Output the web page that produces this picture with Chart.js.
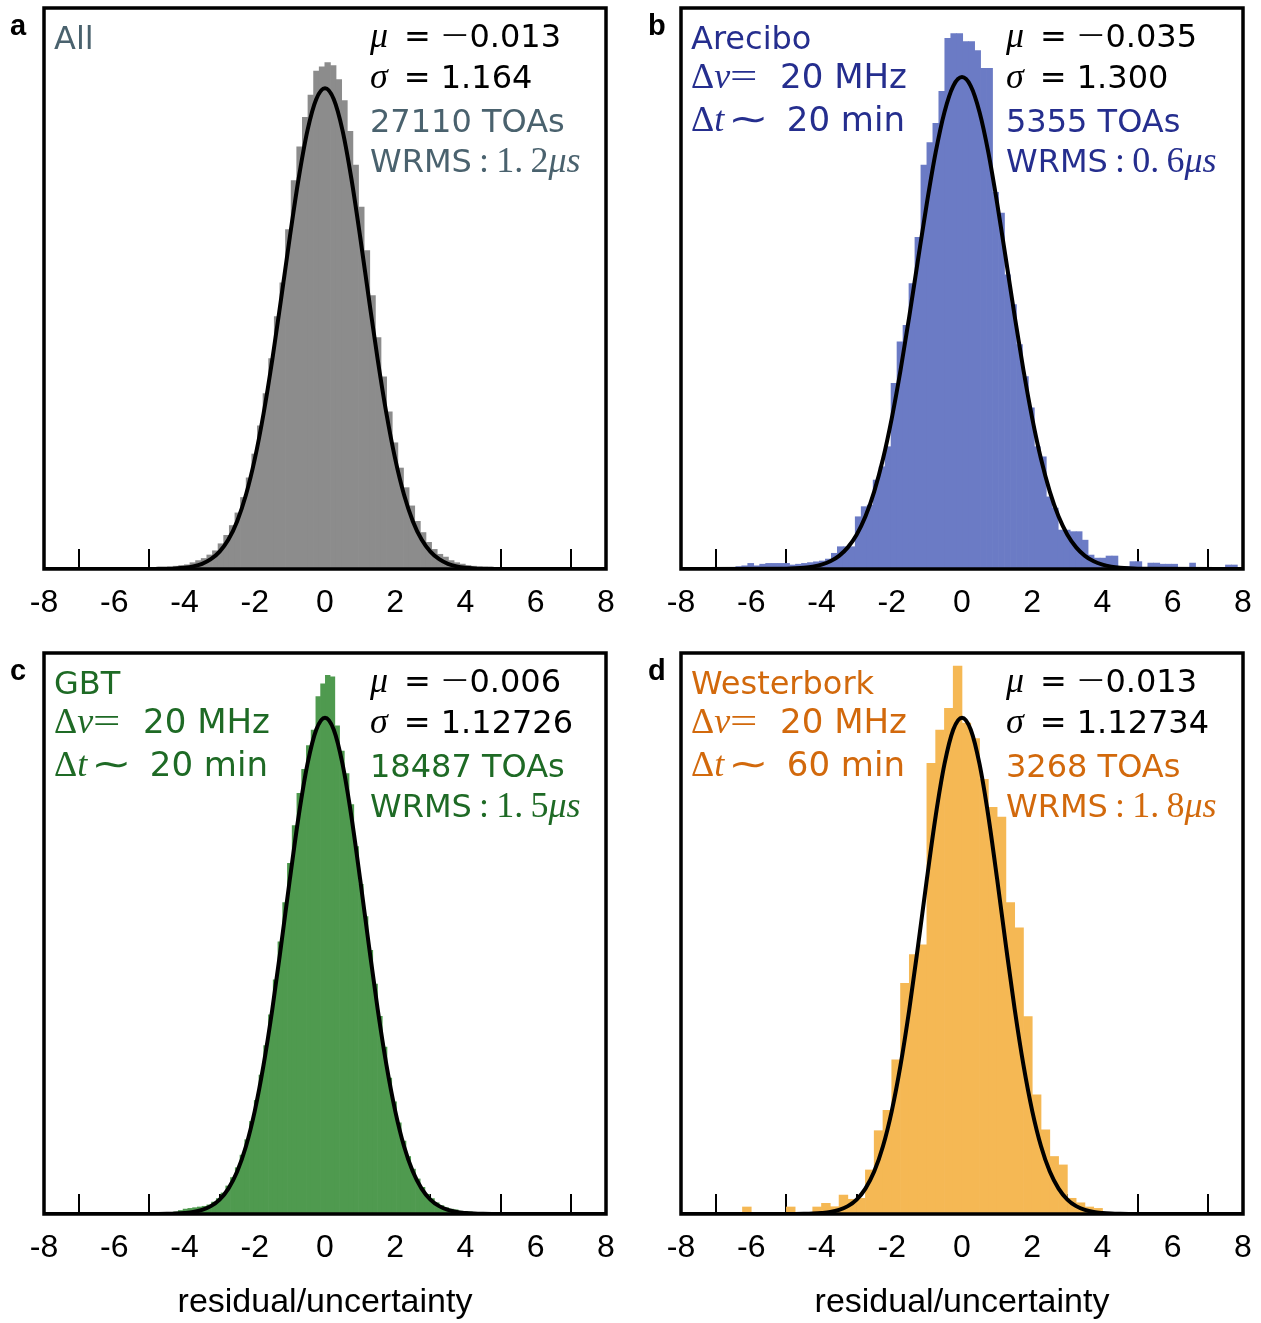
<!DOCTYPE html>
<html>
<head>
<meta charset="utf-8">
<script src="https://cdn.jsdelivr.net/npm/chart.js@4.4.0/dist/chart.umd.min.js"></script>
<style>
  body { margin: 0; background: #fff; }
  #fig { position: relative; width: 1261px; height: 1323px; overflow: hidden; }
  #fig canvas { position: absolute; }
  .txt { position: absolute; font-family: 'DejaVu Sans', sans-serif; font-size: 32px; line-height: 0; white-space: nowrap; }
  .big { font-size: 34px; }
  .m { font-family: 'Liberation Serif', serif; font-style: italic; font-size: 36px; }
  .r { font-family: 'Liberation Serif', serif; font-size: 36px; }
  .w { font-family: 'Liberation Serif', serif; font-size: 36px; display: inline-block; transform: scaleX(1.35); transform-origin: left; }
  .tag { position: absolute; font-family: 'Liberation Sans', Arial, sans-serif; font-weight: bold; font-size: 29px; line-height: 0; }
</style>
</head>
<body>
<div id="fig">
  <canvas id="pa" width="640" height="640" style="left:0;top:0"></canvas>
  <canvas id="pb" width="640" height="640" style="left:637px;top:0"></canvas>
  <canvas id="pc" width="640" height="678" style="left:0;top:645px"></canvas>
  <canvas id="pd" width="640" height="678" style="left:637px;top:645px"></canvas>
</div>
<script>
// x axis ticks (residual / uncertainty)
const xTickValues = [-8, -6, -4, -2, 0, 2, 4, 6, 8];

// histogram bins: first bin centre and bin width, then normalised counts
const binStartA = -6.005, binWidthA = 0.16;
const countsA = [
    0.0006, 0.0006, 0.0008, 0.0006, 0.0008, 0.0008, 0.001, 0.001,
    0.001, 0.0012, 0.0015, 0.002, 0.0025, 0.003, 0.0045, 0.006, 0.0075, 0.010,
    0.013, 0.018, 0.024, 0.031, 0.040, 0.051, 0.065, 0.082, 0.102, 0.125,
    0.150, 0.180, 0.204, 0.242, 0.277, 0.301, 0.322, 0.338, 0.355, 0.358,
    0.361, 0.359, 0.349, 0.334, 0.312, 0.288, 0.258, 0.227, 0.195, 0.165,
    0.137, 0.112, 0.090, 0.072, 0.058, 0.045, 0.034, 0.026, 0.019, 0.014,
    0.0105, 0.0085, 0.006, 0.0045, 0.0035, 0.0025, 0.002, 0.0016, 0.0013, 0.001, 0.0008
];

const binStartB = -6.355, binWidthB = 0.17;
const countsB = [
    0.0015, 0.002, 0.0035, 0.002, 0.003, 0.0035, 0.0035, 0.0035, 0.0035, 0.0025,
    0.003, 0.0035, 0.004, 0.0045, 0.005, 0.0062, 0.0098, 0.0139, 0.0139, 0.0139,
    0.0326, 0.0389, 0.0399, 0.0555, 0.0638, 0.0763, 0.1159, 0.1418, 0.152, 0.178,
    0.207, 0.252, 0.266, 0.278, 0.298, 0.331, 0.334, 0.334,
    0.329, 0.329, 0.3234, 0.3124, 0.3124, 0.235, 0.222, 0.1835, 0.165, 0.14,
    0.12, 0.1005, 0.0763, 0.070, 0.045, 0.038, 0.0243, 0.0243, 0.0233, 0.0233,
    0.018, 0.0087, 0.0068, 0.0068, 0.0081, 0.0081, 0, 0.0015, 0.0046, 0.0046,
    0, 0.0037, 0.0037, 0.003, 0.003, 0.003, 0, 0, 0.0037, 0,
    0, 0, 0, 0, 0.0025, 0.0025
];

const binStartC = -4.5125, binWidthC = 0.135;
const countsC = [
    0.0008, 0.001, 0.0015, 0.0025, 0.0035, 0.004, 0.0045, 0.005, 0.0055, 0.0065,
    0.0085, 0.011, 0.015, 0.020, 0.026, 0.033, 0.042, 0.053, 0.066, 0.081,
    0.099, 0.120, 0.142, 0.167, 0.194, 0.222, 0.250, 0.277, 0.300, 0.317,
    0.334, 0.345, 0.369, 0.378,
    0.384, 0.383, 0.348, 0.330, 0.314, 0.292, 0.262, 0.235, 0.212, 0.188,
    0.164, 0.141, 0.119, 0.097, 0.080, 0.065, 0.052, 0.041, 0.032, 0.025,
    0.019, 0.014, 0.011, 0.008, 0.006, 0.0045, 0.0035, 0.003, 0.002, 0.0018,
    0.0015, 0.0012, 0.001, 0.0008, 0.0006
];

const binStartD = -6.125, binWidthD = 0.25;
const countsD = [
    0.005, 0, 0, 0, 0, 0.005, 0, 0, 0.005, 0.0076,
    0.0052, 0.0135, 0.0105, 0.0112, 0.0314, 0.0594, 0.074, 0.11, 0.1645, 0.185,
    0.192, 0.3213, 0.345, 0.3606, 0.3907, 0.35, 0.339, 0.31, 0.29, 0.283,
    0.222, 0.204, 0.1407, 0.085, 0.06, 0.041, 0.035, 0.0112, 0.008, 0.005, 0.004
];

// fitted normal curves, read at these x positions
const fitX = [-8, -5, -4.75, -4.5, -4.25, -4, -3.75, -3.5, -3.25, -3, -2.75, -2.5, -2.25, -2, -1.75, -1.5, -1.25, -1, -0.75, -0.5, -0.25,
    0, 0.25, 0.5, 0.75, 1, 1.25, 1.5, 1.75, 2, 2.25, 2.5, 2.75, 3, 3.25, 3.5, 3.75, 4, 4.25, 4.5, 4.75, 5, 8];
const fitA = [0, 0, 0.0001, 0.0002, 0.0004, 0.0009, 0.0019, 0.0037, 0.0070, 0.0124, 0.0210, 0.0341, 0.0529, 0.0783, 0.1107, 0.1494, 0.1926, 0.2370, 0.2785, 0.3126, 0.3350,
    0.3428, 0.3350, 0.3126, 0.2785, 0.2370, 0.1926, 0.1494, 0.1107, 0.0783, 0.0529, 0.0341, 0.0210, 0.0124, 0.0070, 0.0037, 0.0019, 0.0009, 0.0004, 0.0002, 0.0001, 0, 0];
const fitB = [0, 0.0002, 0.0004, 0.0008, 0.0015, 0.0027, 0.0048, 0.0082, 0.0135, 0.0214, 0.0327, 0.0483, 0.0686, 0.0940, 0.1240, 0.1577, 0.1933, 0.2283, 0.2599, 0.2850, 0.3013,
    0.3069, 0.3013, 0.2850, 0.2599, 0.2283, 0.1933, 0.1577, 0.1240, 0.0940, 0.0686, 0.0483, 0.0327, 0.0214, 0.0135, 0.0082, 0.0048, 0.0027, 0.0015, 0.0008, 0.0004, 0.0002, 0];
const fitC = [0, 0, 0, 0.0001, 0.0003, 0.0007, 0.0014, 0.0029, 0.0056, 0.0103, 0.0181, 0.0303, 0.0483, 0.0734, 0.1061, 0.1460, 0.1914, 0.2388, 0.2837, 0.3207, 0.3453,
    0.3539, 0.3453, 0.3207, 0.2837, 0.2388, 0.1914, 0.1460, 0.1061, 0.0734, 0.0483, 0.0303, 0.0181, 0.0103, 0.0056, 0.0029, 0.0014, 0.0007, 0.0003, 0.0001, 0, 0, 0];
const fitD = [0, 0, 0, 0.0001, 0.0003, 0.0007, 0.0014, 0.0029, 0.0056, 0.0103, 0.0181, 0.0303, 0.0483, 0.0734, 0.1061, 0.1460, 0.1914, 0.2388, 0.2837, 0.3207, 0.3453,
    0.3539, 0.3453, 0.3207, 0.2837, 0.2388, 0.1914, 0.1460, 0.1061, 0.0734, 0.0483, 0.0303, 0.0181, 0.0103, 0.0056, 0.0029, 0.0014, 0.0007, 0.0003, 0.0001, 0, 0, 0];

const tickFont = "'Liberation Sans', Arial, sans-serif";

// black box around the plot area
const framePlugin = {
    id: 'frame',
    afterDraw(chart) {
        const { ctx, chartArea: a } = chart;
        ctx.save();
        ctx.strokeStyle = '#000';
        ctx.lineWidth = 3.5;
        ctx.strokeRect(a.left, a.top, a.right - a.left, a.bottom - a.top);
        ctx.restore();
    }
};

function makePanel(id, start, width, counts, fit, barColor, yMax, withTitle) {
    const axisH = withTitle ? 109 : 71;
    const bars = counts.map((c, i) => ({ x: start + i * width, y: c }));
    const curve = fitX.map((x, i) => ({ x: x, y: fit[i] }));

    new Chart(document.getElementById(id), {
        type: 'bar',
        data: {
            datasets: [
                {
                    type: 'line',
                    data: curve,
                    borderColor: '#000',
                    borderWidth: 4,
                    pointRadius: 0,
                    fill: false,
                    cubicInterpolationMode: 'monotone',
                    order: 1
                },
                {
                    type: 'bar',
                    data: bars,
                    backgroundColor: barColor,
                    borderWidth: 0,
                    barPercentage: 1,
                    categoryPercentage: 1,
                    order: 2
                }
            ]
        },
        options: {
            responsive: false,
            animation: false,
            devicePixelRatio: 1,
            layout: { padding: { left: 44, top: 8, right: 34, bottom: 0 } },
            plugins: { legend: { display: false }, tooltip: { enabled: false } },
            scales: {
                x: {
                    type: 'linear',
                    min: -8,
                    max: 8,
                    offset: false,
                    z: 1,
                    afterBuildTicks: s => { s.ticks = xTickValues.map(v => ({ value: v })); },
                    afterFit: s => {
                        s.height = axisH;
                        s.paddingLeft = 0;
                        s.paddingRight = 0;
                    },
                    border: { display: false },
                    grid: { drawOnChartArea: false, drawTicks: true, tickLength: -20, color: '#000', lineWidth: 2 },
                    ticks: {
                        color: '#000',
                        padding: 35,
                        autoSkip: false,
                        maxRotation: 0,
                        font: { family: tickFont, size: 32 },
                        callback: v => String(v)
                    },
                    title: {
                        display: withTitle,
                        text: 'residual/uncertainty',
                        color: '#000',
                        padding: { top: 0, bottom: 0 },
                        font: { family: tickFont, size: 34 }
                    }
                },
                y: { display: false, min: 0, max: yMax }
            }
        },
        plugins: [framePlugin]
    });
}

makePanel('pa', binStartA, binWidthA, countsA, fitA, '#8c8c8c', 0.4, false);
makePanel('pb', binStartB, binWidthB, countsB, fitB, '#6b7bc5', 0.35, false);
makePanel('pc', binStartC, binWidthC, countsC, fitC, '#4f9a4f', 0.4, true);
makePanel('pd', binStartD, binWidthD, countsD, fitD, '#f5b854', 0.4, true);

// annotations
const fig = document.getElementById('fig');

function addText(x, baseline, html, color, cls) {
    const d = document.createElement('div');
    d.className = cls || 'txt';
    d.style.left = x + 'px';
    d.style.top = (baseline - (cls === 'tag' ? 10 : 11)) + 'px';
    d.style.color = color;
    d.innerHTML = html;
    fig.appendChild(d);
}

function statBlock(x, top, mu, sigma, toas, wrms, color) {
    addText(x, top + 38, '<span class="m">μ</span>&ensp;= <span class="w">−</span><span style="margin-left:8px">' + mu + '</span>', '#000');
    addText(x, top + 79, '<span class="m">σ</span>&ensp;= ' + sigma, '#000');
    addText(x, top + 124, toas + ' TOAs', color);
    addText(x, top + 163, 'WRMS<span class="r">&#8201;:&#8201;' + wrms.replace('.', '.&#8201;') + '</span><span class="m">μs</span>', color);
}

function siteBlock(x, top, name, dt, color) {
    addText(x, top + 41, name, color);
    if (!dt) return;
    addText(x, top + 79, '<span class="r">Δ</span><span class="m">ν</span><span class="w">=</span><span class="big" style="margin-left:8px">&nbsp; 20 MHz</span>', color);
    addText(x, top + 122, '<span class="r">Δ</span><span class="m">t</span><span class="w">&#8202;∼</span><span class="big" style="margin-left:8px">&nbsp; ' + dt + '</span>', color);
}

addText(10, 35, 'a', '#000', 'tag');
addText(648, 35, 'b', '#000', 'tag');
addText(10, 680, 'c', '#000', 'tag');
addText(648, 680, 'd', '#000', 'tag');

siteBlock(54, 8, 'All', null, '#4a626e');
statBlock(370, 8, '0.013', '1.164', '27110', '1.2', '#4a626e');

siteBlock(691, 8, 'Arecibo', '20 min', '#252e8e');
statBlock(1006, 8, '0.035', '1.300', '5355', '0.6', '#252e8e');

siteBlock(54, 653, 'GBT', '20 min', '#1e6a25');
statBlock(370, 653, '0.006', '1.12726', '18487', '1.5', '#1e6a25');

siteBlock(691, 653, 'Westerbork', '60 min', '#d2690c');
statBlock(1006, 653, '0.013', '1.12734', '3268', '1.8', '#d2690c');
</script>
</body>
</html>
